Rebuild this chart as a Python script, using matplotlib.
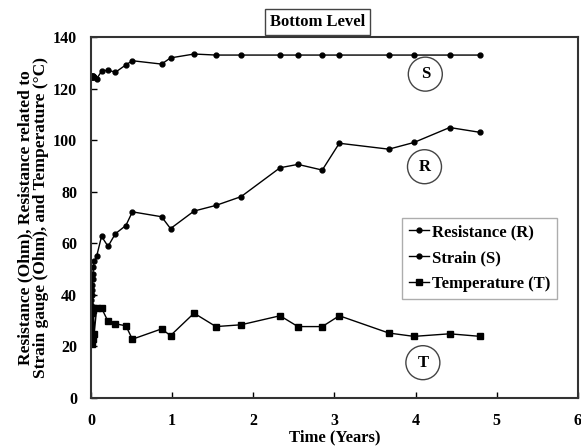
import numpy as np
import matplotlib.pyplot as plt
from matplotlib.patches import Ellipse

plt.rcParams["font.family"] = ["Liberation Serif", "DejaVu Serif"]
plt.rcParams["font.weight"] = "bold"

# time in years
time = [0.0, 0.004, 0.008, 0.012, 0.016, 0.02, 0.025, 0.03, 0.04, 0.07, 0.13,
        0.21, 0.30, 0.43, 0.51, 0.87, 0.98, 1.27, 1.54, 1.85, 2.33, 2.55,
        2.85, 3.06, 3.67, 3.98, 4.42, 4.80]

resistance = [36, 38, 40, 42, 44, 46, 48, 51, 53, 55, 62.7,
              58.8, 63.7, 66.9, 72.2, 70.3, 65.7, 72.5, 74.7, 78.1, 89.3, 90.6,
              88.4, 98.8, 96.5, 99.1, 104.9, 103.0]

strain = [124.5, 125, 124.3, 125, 124.5, 125, 124.3, 124.8, 124.5, 123.8, 126.7,
          127.2, 126.3, 129.2, 130.8, 129.5, 131.9, 133.4, 133, 133, 133, 133,
          133, 133, 133, 133, 133, 133]

temperature = [22, 35, 24, 33, 21, 34, 23, 35, 25, 34.9, 34.9,
               29.7, 28.8, 28.0, 22.8, 26.8, 24.2, 32.9, 27.7, 28.4, 31.9, 27.7,
               27.7, 31.9, 25.2, 23.9, 24.9, 23.9]

labels = ["Resistance (R)", "Strain (S)", "Temperature (T)"]
circle_tags = [("S", 4.12, 125.6), ("R", 4.11, 89.7), ("T", 4.09, 13.7)]

fig = plt.figure(figsize=(5.81, 4.47), dpi=100)
ax = fig.add_axes([0.1566, 0.1096, 0.838, 0.8076])

ax.plot(time, resistance, color="black", lw=1, marker="o", ms=3.5, label=labels[0])
ax.plot(time, strain, color="black", lw=1, marker="o", ms=3.5, label=labels[1])
ax.plot(time, temperature, color="black", lw=1, marker="s", ms=4, label=labels[2])

ax.set_xlim(0, 6)
ax.set_ylim(0, 140)
ax.set_xticks(range(0, 7))
ax.set_yticks(range(0, 141, 20))
ax.tick_params(direction="in", length=4, width=1, labelsize=11.5)
ax.tick_params(axis="x", pad=11)
ax.tick_params(axis="y", pad=10)
for lab in ax.get_xticklabels() + ax.get_yticklabels():
    lab.set_fontweight("bold")
for sp in ax.spines.values():
    sp.set_linewidth(1.5)
    sp.set_color("#333333")

ax.set_xlabel("Time (Years)", fontsize=12, fontweight="bold", labelpad=0)
ax.set_ylabel("Resistance (Ohm), Resistance related to\nStrain gauge (Ohm), and Temperature (\u00b0C)",
              fontsize=12.5, fontweight="bold", labelpad=3, linespacing=0.95)

# circled series tags, sized in pixels
for tag, cx, cy in circle_tags:
    w = 34 / (ax.bbox.width / 6)
    h = 34 / (ax.bbox.height / 140)
    ax.add_patch(Ellipse((cx, cy), w, h, fill=False, ec="#444444", lw=1))
    ax.text(cx, cy, tag, ha="center", va="center", fontsize=12, fontweight="bold")

leg = ax.legend(loc="upper right", bbox_to_anchor=(0.957, 0.5), frameon=True,
                fancybox=False, edgecolor="#999999", fontsize=12, handlelength=1.2,
                handletextpad=0.2, borderpad=0.4, labelspacing=0.6,
                borderaxespad=0)
leg.get_frame().set_linewidth(1)
for t in leg.get_texts():
    t.set_fontweight("bold")

fig.text(0.5465, 0.951, "Bottom Level", ha="center", va="center", fontsize=12,
         fontweight="bold",
         bbox=dict(boxstyle="square,pad=0.3", fc="white", ec="#444444", lw=1))

fig.savefig("out.png", dpi=100)
